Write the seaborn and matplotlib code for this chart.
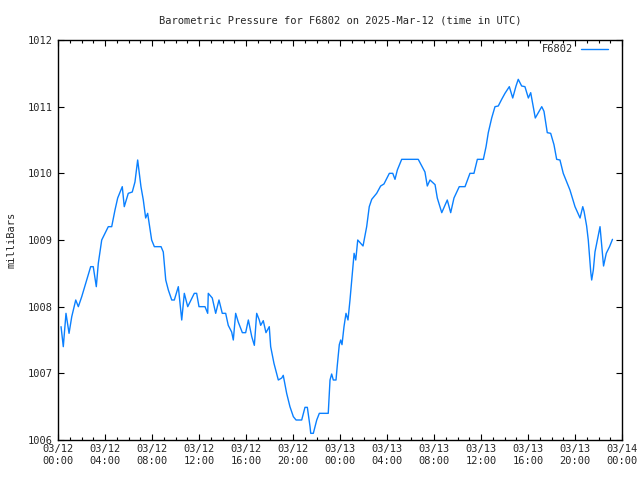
import numpy as np
import pandas as pd
import matplotlib
matplotlib.use("Agg")
import matplotlib.pyplot as plt
import matplotlib.dates as mdates
import seaborn as sns

# Hours since 2025-03-12 00:00 UTC
hours = [
    0.26, 0.45, 0.68, 0.94, 1.17, 1.51, 1.73, 2.02, 2.44, 2.78, 3.00, 3.26, 3.43, 3.72,
    4.00, 4.28, 4.57, 4.85, 5.08, 5.47, 5.64, 5.98, 6.32, 6.55, 6.78, 7.06, 7.26, 7.46,
    7.63, 7.97, 8.20, 8.77, 8.96, 9.17, 9.39, 9.68, 9.90, 10.24, 10.47, 10.53, 10.75,
    11.04, 11.60, 11.80, 12.00, 12.51, 12.74, 12.79, 13.13, 13.42, 13.70, 13.98, 14.27,
    14.49, 14.78, 14.92, 15.12, 15.34, 15.69, 15.97, 16.20, 16.49, 16.71, 16.91, 17.13,
    17.25, 17.47, 17.70, 17.98, 18.10, 18.38, 18.75, 19.04, 19.17, 19.46, 19.74, 20.03,
    20.26, 20.74, 21.02, 21.22, 21.45, 21.51, 21.73, 22.02, 22.24, 23.00, 23.15, 23.29,
    23.43, 23.66, 23.77, 23.94, 24.06, 24.17, 24.34, 24.51, 24.68, 24.85, 25.08, 25.20,
    25.34, 25.51, 25.96, 26.27, 26.49, 26.70, 27.12, 27.46, 27.74, 28.20, 28.49, 28.68,
    28.88, 29.25, 30.66, 31.23, 31.43, 31.66, 32.09, 32.28, 32.66, 33.13, 33.42, 33.70,
    34.15, 34.64, 35.06, 35.40, 35.69, 36.20, 36.43, 36.62, 36.91, 37.19, 37.47, 37.76,
    38.04, 38.41, 38.70, 38.98, 39.17, 39.46, 39.74, 40.03, 40.23, 40.62, 41.17, 41.36,
    41.64, 41.93, 42.21, 42.44, 42.72, 43.00, 43.57, 44.00, 44.43, 44.66, 44.77, 44.99,
    45.13, 45.34, 45.42, 45.56, 45.70, 45.90, 46.13, 46.28, 46.43, 46.66, 46.94, 47.19,
]
pressure = [
    1007.7, 1007.4, 1007.9, 1007.6, 1007.85, 1008.1, 1008.0, 1008.15, 1008.4, 1008.6, 1008.6,
    1008.3, 1008.65, 1009.0, 1009.1, 1009.2, 1009.2, 1009.45, 1009.63, 1009.8, 1009.5, 1009.7,
    1009.72, 1009.87, 1010.2, 1009.8, 1009.6, 1009.33, 1009.4, 1009.0, 1008.9, 1008.9, 1008.82,
    1008.4, 1008.25, 1008.1, 1008.1, 1008.3, 1007.9, 1007.8, 1008.2, 1008.0, 1008.2, 1008.2,
    1008.0, 1008.0, 1007.9, 1008.2, 1008.13, 1007.9, 1008.1, 1007.9, 1007.9, 1007.72, 1007.62,
    1007.5, 1007.9, 1007.77, 1007.61, 1007.61, 1007.8, 1007.55, 1007.42, 1007.9, 1007.8,
    1007.72, 1007.79, 1007.61, 1007.7, 1007.4, 1007.15, 1006.9, 1006.93, 1006.97, 1006.7,
    1006.5, 1006.35, 1006.3, 1006.3, 1006.49, 1006.49, 1006.2, 1006.1, 1006.1, 1006.3, 1006.4,
    1006.4, 1006.9, 1006.99, 1006.9, 1006.9, 1007.12, 1007.43, 1007.5, 1007.43, 1007.7,
    1007.9, 1007.8, 1008.1, 1008.55, 1008.8, 1008.7, 1009.0, 1008.91, 1009.2, 1009.5,
    1009.61, 1009.7, 1009.81, 1009.84, 1010.0, 1010.0, 1009.91, 1010.05, 1010.21, 1010.21,
    1010.02, 1009.81, 1009.9, 1009.83, 1009.63, 1009.41, 1009.6, 1009.41, 1009.63, 1009.8,
    1009.8, 1010.0, 1010.0, 1010.21, 1010.21, 1010.4, 1010.61, 1010.83, 1011.0, 1011.01,
    1011.11, 1011.2, 1011.3, 1011.13, 1011.31, 1011.41, 1011.31, 1011.3, 1011.13, 1011.21,
    1010.83, 1011.0, 1010.93, 1010.61, 1010.6, 1010.43, 1010.21, 1010.2, 1010.0, 1009.75,
    1009.5, 1009.33, 1009.5, 1009.43, 1009.21, 1009.0, 1008.52, 1008.4, 1008.55, 1008.82,
    1009.0, 1009.2, 1008.9, 1008.61, 1008.8, 1008.9, 1009.01,
]
series_name = "F6802"
title = "Barometric Pressure for F6802 on 2025-Mar-12 (time in UTC)"
y_label = "milliBars"
y_ticks = [1006, 1007, 1008, 1009, 1010, 1011, 1012]

n = min(len(hours), len(pressure))
start = pd.Timestamp("2025-03-12 00:00")
df = pd.DataFrame({
    "time": start + pd.to_timedelta(np.array(hours[:n]), unit="h"),
    "pressure": pressure[:n],
    "station": series_name,
})

sns.set_style("white")
plt.rcParams["font.family"] = ["DejaVu Sans Mono"]
fs = 7.5

fig = plt.figure(figsize=(6.4, 4.8), dpi=100)
ax = fig.add_axes([58 / 640, 40 / 480, 564 / 640, 400 / 480])

sns.lineplot(data=df, x="time", y="pressure", hue="station",
             palette=["#0a80ff"], linewidth=1.0, ax=ax)

ax.set_xlim(start, start + pd.Timedelta(hours=48))
ax.set_ylim(1006, 1012)
ax.set_yticks(y_ticks)
ax.set_yticklabels([str(v) for v in y_ticks], fontsize=fs)

ax.xaxis.set_major_locator(mdates.HourLocator(byhour=range(0, 24, 4)))
ax.xaxis.set_minor_locator(mdates.HourLocator())
ax.xaxis.set_major_formatter(mdates.DateFormatter("%m/%d\n%H:%M"))
ax.tick_params(axis="x", labelsize=fs, pad=3)
ax.tick_params(axis="y", labelsize=fs, pad=4)

ax.tick_params(which="both", direction="in", top=True, right=True,
               bottom=True, left=True, color="black", width=0.8)
ax.tick_params(which="major", length=4)
ax.tick_params(which="minor", length=2.5)

for sp in ax.spines.values():
    sp.set_visible(True)
    sp.set_color("black")
    sp.set_linewidth(1.0)

ax.set_xlabel("")
ax.set_ylabel(y_label, fontsize=fs, labelpad=8)
ax.set_title(title, fontsize=fs, pad=12)

leg = ax.legend(loc="upper right", bbox_to_anchor=(1 - 7 / 564, 1 + 3 / 400),
                frameon=False, markerfirst=False, fontsize=fs,
                handlelength=2.6, handletextpad=0.7, borderaxespad=0.3)

fig.savefig("out.png", dpi=100)
